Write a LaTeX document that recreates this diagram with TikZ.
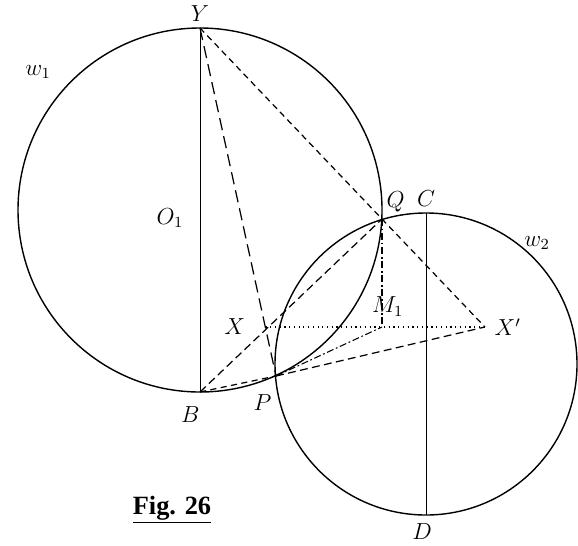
\documentclass[tikz,border=0pt]{standalone}
\usepackage{fontspec}
\newfontfamily\figfont{Liberation Serif}
\begin{document}
\begin{tikzpicture}[
    circ/.style={line width=0.8pt},
    diam/.style={line width=0.5pt},
    longdash/.style={line width=0.7pt, dash pattern=on 7pt off 3.5pt},
    middash/.style={line width=0.7pt, dash pattern=on 4.5pt off 2.5pt},
    shortdash/.style={line width=0.7pt, dash pattern=on 3.5pt off 2.5pt},
    dashdot/.style={line width=0.6pt, dash pattern=on 4pt off 1.5pt on 1pt off 1.5pt},
    lbl/.style={font=\large, scale=1.1},
    every label/.style={lbl}
]
    \useasboundingbox (0,0) rectangle (11.56,10.9);

    % circulo w1
    \coordinate (O1) at (4.0, 6.7);
    \coordinate[label=above:{$Y$}] (Y) at (4.0, 10.34);
    \coordinate[label={[xshift=-5pt, yshift=-4pt]below:{$B$}}] (B) at (4.0, 3.06);
    \node[lbl] (lO1) at (3.4, 6.54) {$O_1$};
    \node[lbl] (w1) at (0.76, 9.46) {$w_1$};
    \draw[circ] (O1) circle (3.64);
    \draw[diam] (Y) -- (B);

    % circulo w2
    \coordinate (O2) at (8.52, 3.62);
    \coordinate[label=above:{$C$}] (C) at (8.52, 6.64);
    \coordinate[label={[xshift=-2pt, yshift=-1pt]below:{$D$}}] (D) at (8.52, 0.60);
    \node[lbl] (w2) at (10.74, 6.04) {$w_2$};
    \draw[circ] (O2) circle (3.02);
    \draw[diam] (C) -- (D);

    % puntos de corte y construccion
    \coordinate[label={[xshift=7pt, yshift=0pt]above:{$Q$}}] (Q) at (7.64, 6.52);
    \coordinate[label={[xshift=-7pt, yshift=-6pt]below:{$P$}}] (P) at (5.52, 3.38);
    \coordinate[label={[label distance=7pt]left:{$X$}}] (X) at (5.306, 4.36);
    \coordinate[label={[label distance=1.5pt]right:{$X'$}}] (Xp) at (9.698, 4.36);
    \coordinate[label={[xshift=3pt, yshift=2pt]above:{$M_1$}}] (M1) at (7.64, 4.36);

    \draw[longdash] (Y) -- (P);
    \draw[shortdash] (Y) -- (Xp);
    \draw[middash] (B) -- (Q);
    \draw[shortdash] (B) -- (P);
    \draw[middash] (P) -- (Xp);
    \draw[dotted, line width=0.7pt] (X) -- (Xp);
    \draw[dashdot] (Q) -- (M1);
    \draw[dashdot] (P) -- (M1);

    \node (fig) at (3.44, 0.7) {\figfont\fontsize{15}{18}\selectfont\bfseries\underline{Fig. 26}};
\end{tikzpicture}
\end{document}
